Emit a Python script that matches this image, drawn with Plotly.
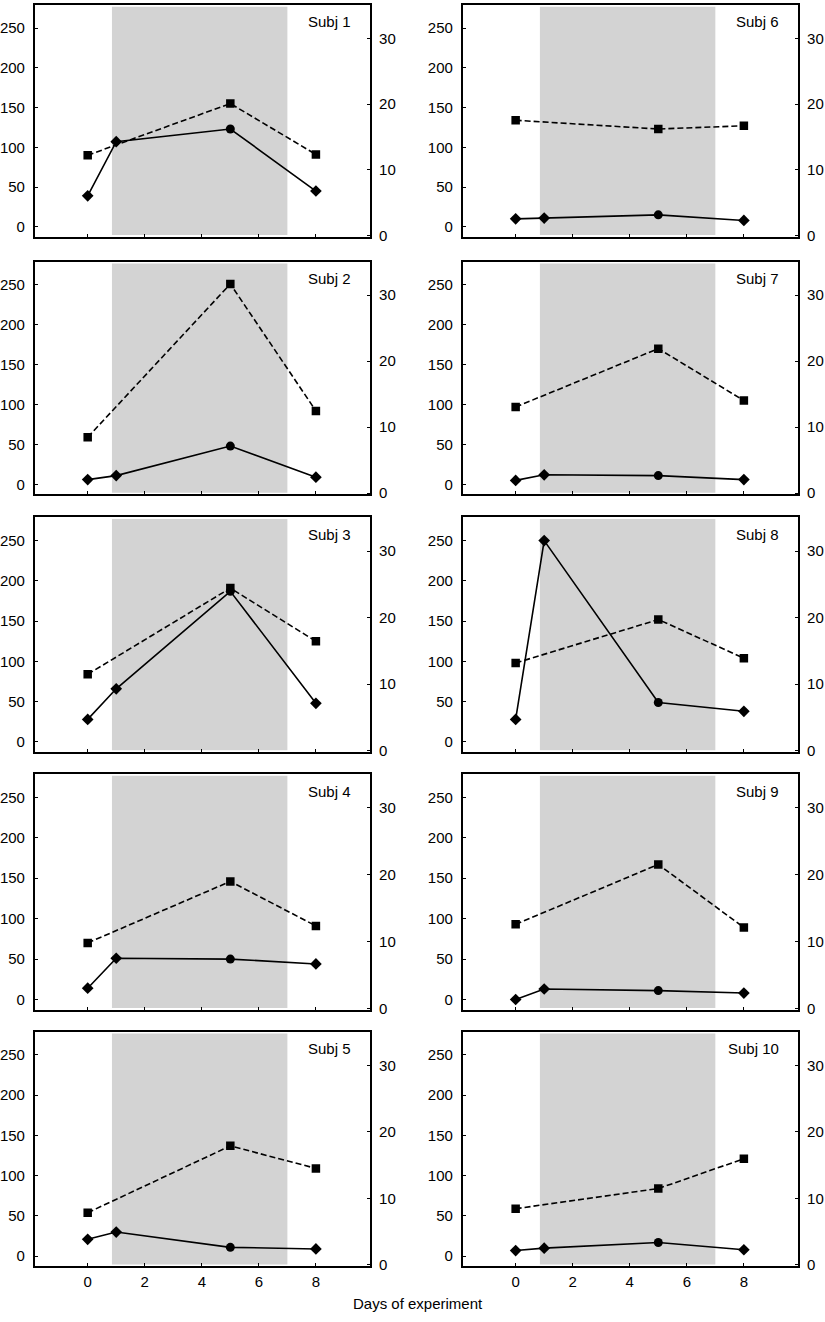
import plotly.graph_objects as go

# ---------------- data ----------------
subjects = ["Subj 1", "Subj 2", "Subj 3", "Subj 4", "Subj 5",
            "Subj 6", "Subj 7", "Subj 8", "Subj 9", "Subj 10"]
days_square = [0, 5, 8]
days_circle = [0, 1, 5, 8]
square_values = [
    [90, 155, 91],
    [59, 251, 92],
    [84, 191, 125],
    [70, 146, 91],
    [54, 137, 109],
    [134, 123, 127],
    [97, 170, 105],
    [98, 152, 104],
    [93, 167, 89],
    [59, 84, 121],
]
circle_values = [
    [39, 107, 123, 45],
    [6, 11, 48, 9],
    [28, 66, 187, 48],
    [14, 51, 50, 44],
    [21, 30, 11, 9],
    [10, 11, 15, 8],
    [5, 12, 11, 6],
    [28, 250, 49, 38],
    [0, 13, 11, 8],
    [7, 10, 17, 8],
]
x_ticks = [0, 2, 4, 6, 8]
left_ticks = [0, 50, 100, 150, 200, 250]
right_ticks = [0, 10, 20, 30]
shade_days = [0.85, 7.0]
x_title = "Days of experiment"

# ---------------- layout geometry ----------------
W, H = 825, 1322
col_px = [(33, 369), (462, 798)]
row_top = [5, 263, 520, 778, 1037]
row_bot = [238, 497, 756, 1015, 1273]

FONT = "Liberation Sans, Arial, Helvetica, sans-serif"
FS = 15
fig = go.Figure()
layout = dict(
    width=W, height=H,
    margin=dict(l=0, r=0, t=0, b=0),
    paper_bgcolor="white", plot_bgcolor="white",
    showlegend=False,
    font=dict(family=FONT, size=FS, color="black"),
    shapes=[], annotations=[],
)

for i, name in enumerate(subjects):
    col = i // 5
    row = i % 5
    k = i + 1
    kr = i + 11
    xa = "x" if k == 1 else f"x{k}"
    ya = "y" if k == 1 else f"y{k}"
    yr = f"y{kr}"
    xd = [col_px[col][0] / W, col_px[col][1] / W]
    yd = [1 - row_bot[row] / H, 1 - row_top[row] / H]
    bottom = row == 4

    layout[f"xaxis{k}"] = dict(
        domain=xd, anchor=ya, range=[-1.85, 9.9],
        tickvals=x_ticks, showticklabels=bottom,
        ticks="inside", ticklen=3, tickwidth=1, tickcolor="black",
        showline=True, mirror=True, linecolor="black", linewidth=2,
        showgrid=False, zeroline=False, fixedrange=True,
        tickfont=dict(size=FS), ticklabelstandoff=1,
    )
    layout[f"yaxis{k}"] = dict(
        domain=yd, anchor=xa, range=[-12.5, 279],
        tickvals=left_ticks,
        ticks="inside", ticklen=3, tickwidth=1, tickcolor="black",
        showline=True, mirror=False, linecolor="black", linewidth=2,
        showgrid=False, zeroline=False, fixedrange=True,
        tickfont=dict(size=FS), ticklabelstandoff=5,
    )
    layout[f"yaxis{kr}"] = dict(
        overlaying=ya, anchor=xa, side="right", range=[-0.2, 35.1],
        tickvals=right_ticks,
        ticks="inside", ticklen=3, tickwidth=1, tickcolor="black",
        showline=True, linecolor="black", linewidth=2,
        showgrid=False, zeroline=False, fixedrange=True,
        tickfont=dict(size=FS), ticklabelstandoff=4,
    )

    # shaded experimental period
    layout["shapes"].append(dict(
        type="rect", xref=xa, yref=f"{ya} domain",
        x0=shade_days[0], x1=shade_days[1], y0=0.007, y1=0.992,
        fillcolor="#d3d3d3", line=dict(width=0), layer="below",
    ))

    layout["annotations"].append(dict(
        text=name, xref=f"{xa} domain", yref=f"{ya} domain",
        x=0.95, y=0.927, xanchor="right", yanchor="middle",
        showarrow=False, font=dict(size=FS),
    ))

    fig.add_trace(go.Scatter(
        x=days_square, y=square_values[i], xaxis=xa, yaxis=ya,
        mode="lines+markers",
        line=dict(color="black", width=1.6, dash="6px,3px"),
        marker=dict(symbol="square", size=8.5, color="black"),
    ))
    fig.add_trace(go.Scatter(
        x=days_circle, y=circle_values[i], xaxis=xa, yaxis=ya,
        mode="lines+markers",
        line=dict(color="black", width=1.6),
        marker=dict(symbol=["diamond", "diamond", "circle", "diamond"],
                    size=9, color="black"),
    ))
    # keep right-hand axis in place
    fig.add_trace(go.Scatter(x=[], y=[], xaxis=xa, yaxis=yr,
                             hoverinfo="skip"))

layout["annotations"].append(dict(
    text=x_title, xref="paper", yref="paper",
    x=417 / W, y=1 - 1310 / H, xanchor="center", yanchor="middle",
    showarrow=False, font=dict(size=FS),
))

fig.update_layout(**layout)
fig.write_html(
    "out.html",
    config={"displayModeBar": False},
    post_script="document.body.style.margin='0px';document.body.style.overflow='hidden';",
)
